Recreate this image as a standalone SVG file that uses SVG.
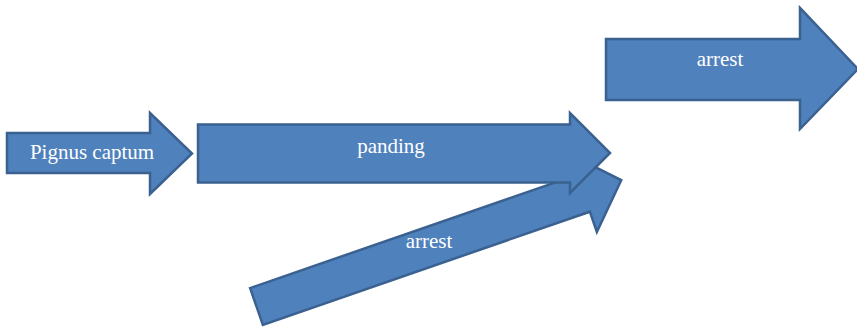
<svg xmlns="http://www.w3.org/2000/svg" width="857" height="327" viewBox="0 0 857 327">
<style>
.arrow{fill:#4F81BD;stroke:#3A6190;stroke-width:2.5;stroke-linejoin:miter}
.lbl{font-family:"Liberation Serif","Times New Roman",serif;font-size:21px;fill:#FFFFFF;text-anchor:middle}
</style>
<rect width="857" height="327" fill="#FFFFFF"/>
<g id="arrest-diagonal">
<polygon class="arrow" transform="translate(256.5,306.5) rotate(-19.1)" points="0,-19.5 346,-19.5 346,-41 386,0 346,41 346,19.5 0,19.5"/>
<text class="lbl" x="429" y="248">arrest</text>
</g>
<g id="pignus-captum">
<polygon class="arrow" points="7,133 150,133 150,113 192,153.5 150,194 150,173 7,173"/>
<text class="lbl" x="92" y="159">Pignus captum</text>
</g>
<g id="panding">
<polygon class="arrow" points="198,124.5 570,124.5 570,113 610,153 570,193 570,182.5 198,182.5"/>
<text class="lbl" x="391" y="153">panding</text>
</g>
<g id="arrest-top">
<polygon class="arrow" points="606,39 800,39 800,8 858,69 800,129 800,100 606,100"/>
<text class="lbl" x="720" y="66">arrest</text>
</g>
<g id="connectors"></g>
</svg>
